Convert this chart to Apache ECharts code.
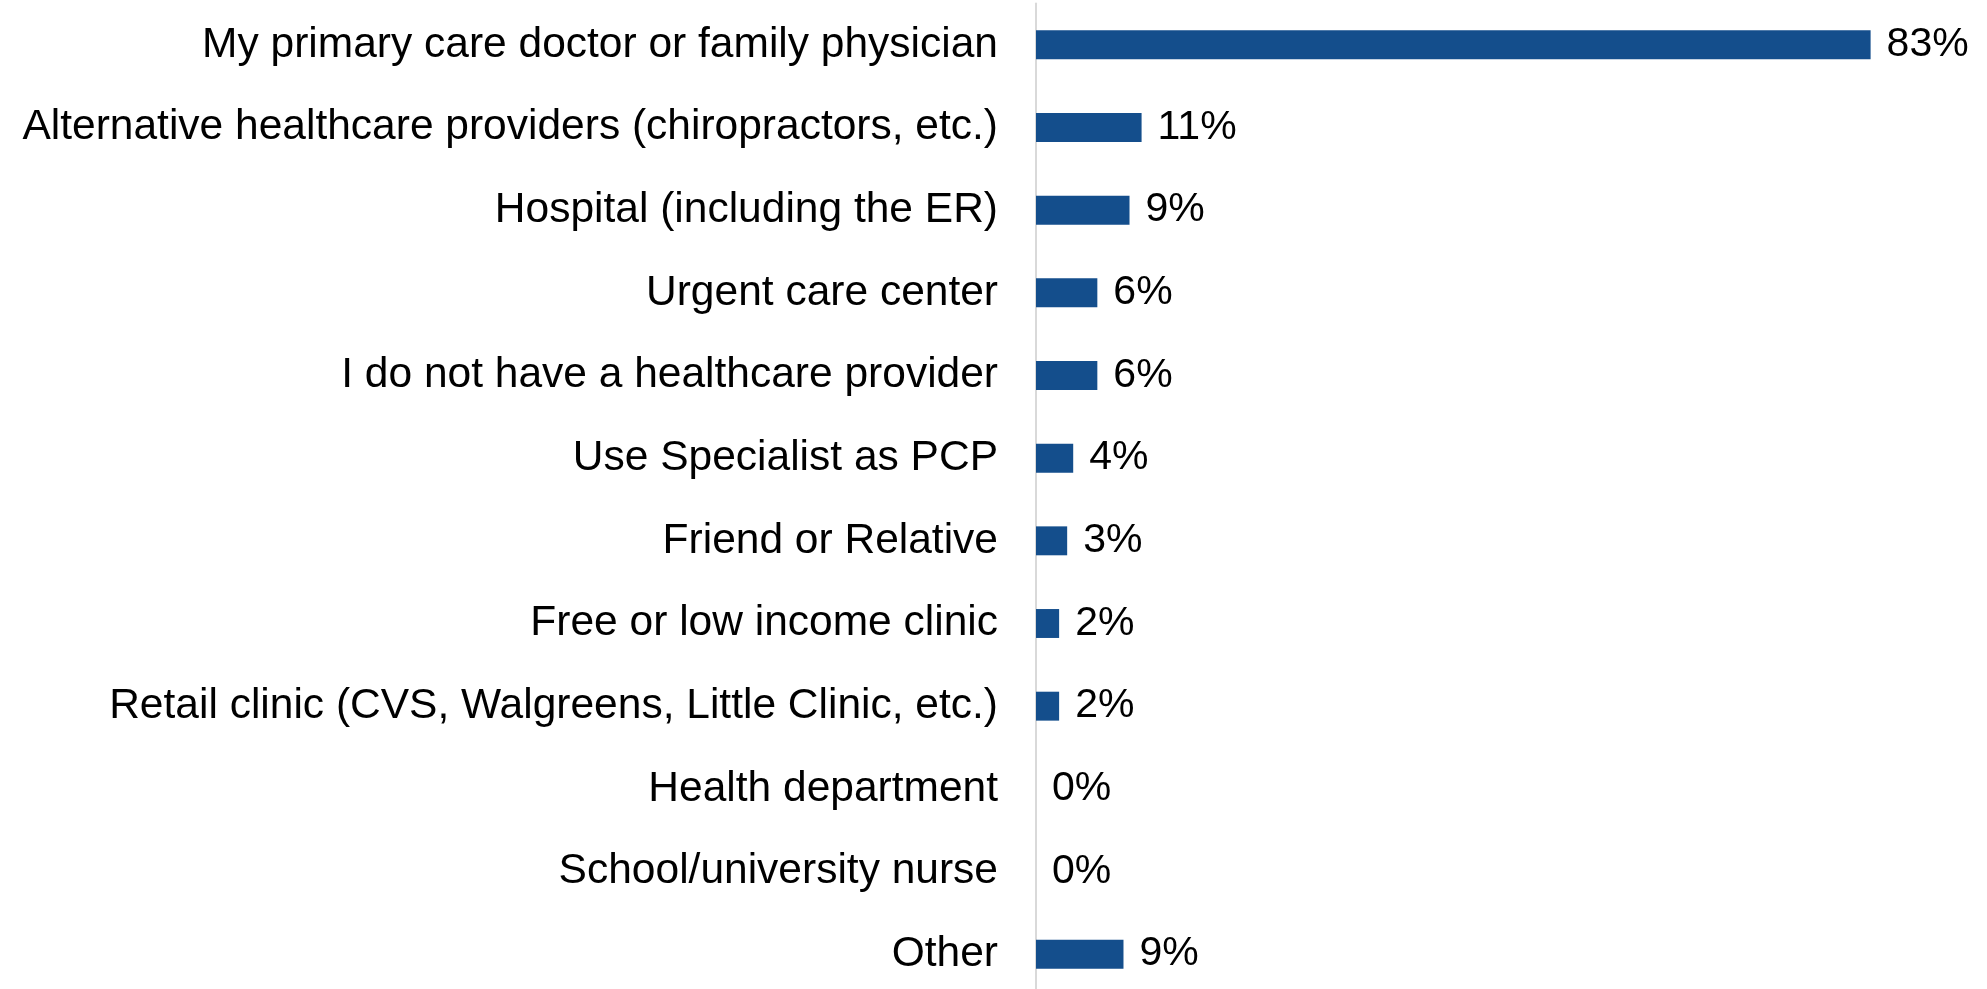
<!DOCTYPE html>
<html>
<head>
<meta charset="utf-8">
<script src="https://cdn.jsdelivr.net/npm/echarts@6/dist/echarts.min.js"></script>
<style>
  html, body { margin: 0; padding: 0; background: #fff; overflow: hidden; }
  /* the reference is cropped at the bottom, so the canvas runs a bit past the window */
  #chart { width: 1987px; height: 1000px; }
</style>
</head>
<body>
<div id="chart"></div>
<script>
// answers, top to bottom
var categories = [
  'My primary care doctor or family physician',
  'Alternative healthcare providers (chiropractors, etc.)',
  'Hospital (including the ER)',
  'Urgent care center',
  'I do not have a healthcare provider',
  'Use Specialist as PCP',
  'Friend or Relative',
  'Free or low income clinic',
  'Retail clinic (CVS, Walgreens, Little Clinic, etc.)',
  'Health department',
  'School/university nurse',
  'Other'
]
// percent of respondents
var shares = [83, 10.5, 9.3, 6.1, 6.1, 3.7, 3.1, 2.3, 2.3, 0, 0, 8.7]

var chart = echarts.init(document.getElementById('chart'))
chart.setOption({
  backgroundColor: '#ffffff',
  animation: false,
  grid: {
    left: 1036,
    width: 905,
    top: 3.5,
    height: 992
  },
  xAxis: {
    type: 'value',
    min: 0,
    max: 90,
    show: false
  },
  yAxis: {
    type: 'category',
    inverse: true,
    data: categories,
    axisTick: { show: false },
    axisLine: {
      show: true,
      lineStyle: { color: '#d9d9d9', width: 2 }
    },
    axisLabel: {
      margin: 38,
      color: '#000',
      fontFamily: 'Liberation Sans',
      fontSize: 42.5
    }
  },
  series: [
    {
      type: 'bar',
      data: shares,
      barCategoryGap: '65%',
      itemStyle: { color: '#144e8c' },
      label: {
        show: true,
        position: 'right',
        distance: 16,
        color: '#000',
        fontFamily: 'Liberation Sans',
        fontSize: 41,
        formatter: function (p) {
          return Math.round(p.value) + '%'
        }
      }
    }
  ]
})
</script>
</body>
</html>
